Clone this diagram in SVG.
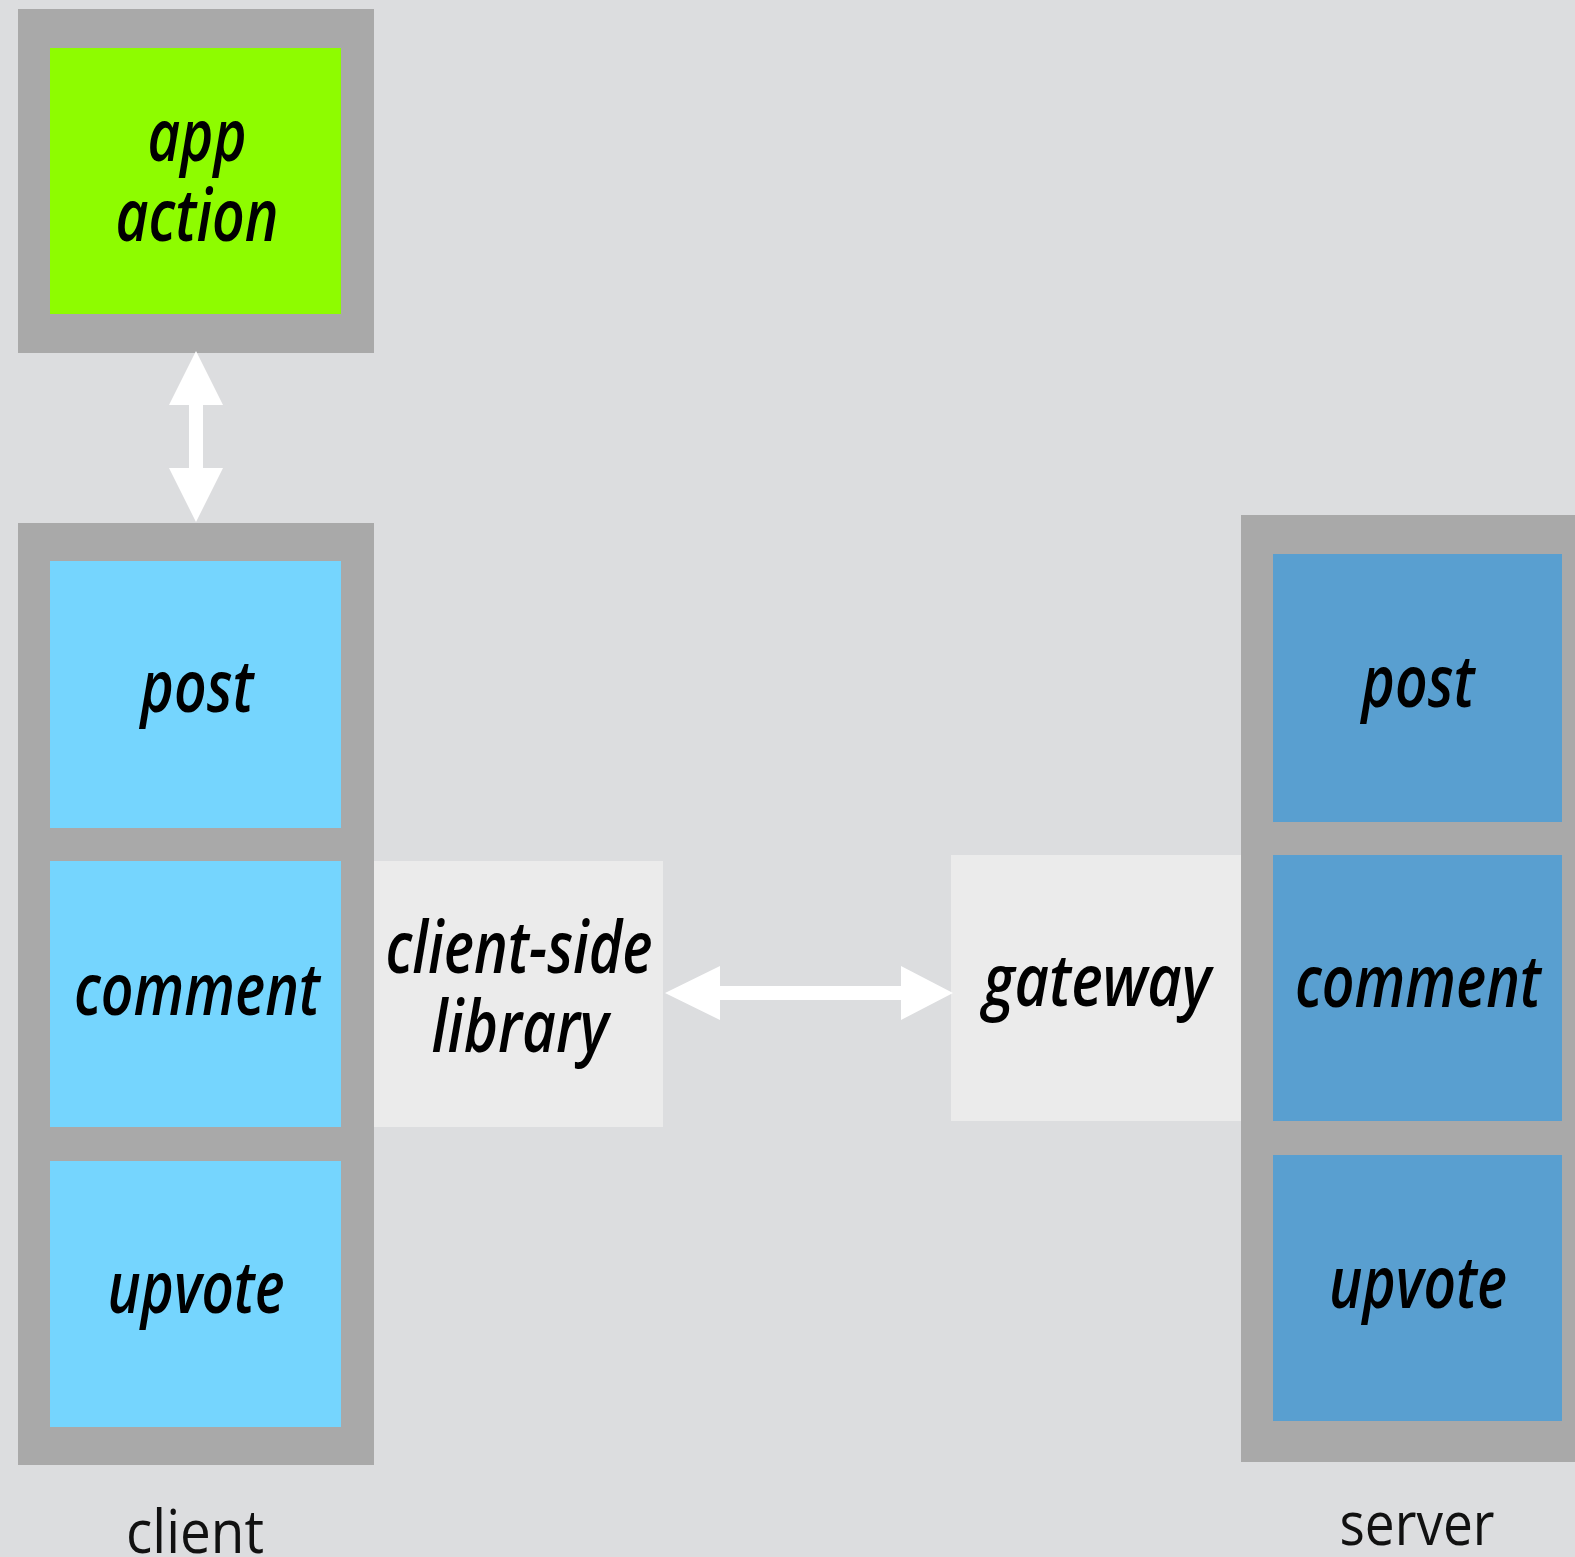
<svg xmlns="http://www.w3.org/2000/svg" width="1575" height="1557" viewBox="0 0 1575 1557">
<style>
.frame{fill:#a9a9a9}
.green{fill:#8efc00}
.cli{fill:#75d5fe}
.srv{fill:#599fd0}
.mid{fill:#ebebeb}
.t{font-family:"Open Sans","Liberation Sans",sans-serif;font-style:italic;font-weight:600;font-size:72px;fill:#000;text-anchor:middle}
.lbl{font-family:"Open Sans","Liberation Sans",sans-serif;font-size:60px;fill:#111;text-anchor:middle}
.arrow{fill:#ffffff}
</style>
<rect width="1575" height="1557" fill="#dcdddf"/>
<g id="app-action">
<rect class="frame" x="18" y="9" width="356" height="344"/>
<rect class="green" x="50" y="48" width="291" height="266"/>
<text class="t" x="197" y="161" textLength="99" lengthAdjust="spacingAndGlyphs">app</text>
<text class="t" x="197" y="241" textLength="163" lengthAdjust="spacingAndGlyphs">action</text>
</g>
<g id="client">
<rect class="frame" x="18" y="523" width="356" height="942"/>
<g id="client-post">
<rect class="cli" x="50" y="561" width="291" height="267"/>
<text class="t" x="197" y="712" textLength="113" lengthAdjust="spacingAndGlyphs">post</text>
</g>
<g id="client-comment">
<rect class="cli" x="50" y="861" width="291" height="266"/>
<text class="t" x="197" y="1015" textLength="246" lengthAdjust="spacingAndGlyphs">comment</text>
</g>
<g id="client-upvote">
<rect class="cli" x="50" y="1161" width="291" height="266"/>
<text class="t" x="196" y="1313" textLength="177" lengthAdjust="spacingAndGlyphs">upvote</text>
</g>
<text class="lbl" x="195" y="1553" textLength="138" lengthAdjust="spacingAndGlyphs">client</text>
</g>
<g id="client-side-library">
<rect class="mid" x="374" y="861" width="289" height="266"/>
<text class="t" x="519" y="973" textLength="267" lengthAdjust="spacingAndGlyphs">client-side</text>
<text class="t" x="520" y="1052" textLength="177" lengthAdjust="spacingAndGlyphs">library</text>
</g>
<g id="gateway">
<rect class="mid" x="951" y="855" width="291" height="266"/>
<text class="t" x="1097" y="1006" textLength="228" lengthAdjust="spacingAndGlyphs">gateway</text>
</g>
<g id="server">
<rect class="frame" x="1241" y="515" width="334" height="947"/>
<g id="server-post">
<rect class="srv" x="1273" y="554" width="289" height="268"/>
<text class="t" x="1418" y="707" textLength="113" lengthAdjust="spacingAndGlyphs">post</text>
</g>
<g id="server-comment">
<rect class="srv" x="1273" y="855" width="289" height="266"/>
<text class="t" x="1418" y="1007" textLength="246" lengthAdjust="spacingAndGlyphs">comment</text>
</g>
<g id="server-upvote">
<rect class="srv" x="1273" y="1155" width="289" height="266"/>
<text class="t" x="1418" y="1308" textLength="178" lengthAdjust="spacingAndGlyphs">upvote</text>
</g>
<text class="lbl" x="1417" y="1545" textLength="155" lengthAdjust="spacingAndGlyphs">server</text>
</g>
<g id="connectors">
<polygon class="arrow" points="196,351 223,405 203,405 203,468 223,468 196,522 169,468 189,468 189,405 169,405"/>
<polygon class="arrow" points="665,993 720,966 720,986 901,986 901,966 953,993 901,1020 901,1000 720,1000 720,1020"/>
</g>
</svg>
